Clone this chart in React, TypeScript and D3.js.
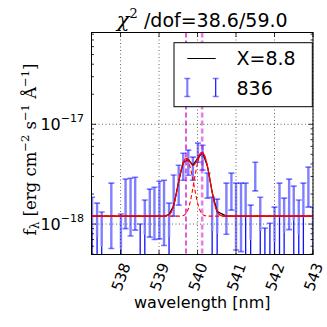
import React from "react";
import * as d3 from "d3";

// ---------- data (flux units of 1e-18 erg cm^-2 s^-1 A^-1) ----------
const UNIT = 1e-18;
const wavelengths = [
  537.26, 537.39, 537.51, 537.76, 538.01, 538.13, 538.26, 538.38, 538.51, 538.63,
  538.76, 538.88, 539.01, 539.13, 539.26, 539.38, 539.51, 539.63, 539.76, 539.88,
  540.01, 540.13, 540.26, 540.38, 540.51, 540.75, 540.88, 541.0, 541.13, 541.25,
  541.38, 541.5, 541.63, 541.75, 541.88, 542.0, 542.13, 542.25, 542.38, 542.5,
  542.63, 542.75, 542.88, 543.0,
];
const fluxes = [
  0.85, 0.74, 0.6, 1.57, 0.57, 1.86, 1.82, 1.91, 0.45, 0.79,
  1.49, 1.52, 1.7, 1.68, 0.74, 2.15, 2.72, 3.94, 4.3, 3.72,
  5.32, 4.82, 2.53, 0.85, 0.81, 1.68, 2.31, 1.56, 1.55, 1.17,
  0.7, 3.16, 0.85, 0.41, 0.46, 0.67, 1.17, 0.83, 1.85, 1.09,
  0.79, 1.17, 2.6, 0.67,
];
const errors = [
  1.01, 0.88, 0.72, 1.0, 0.69, 0.96, 1.06, 1.04, 0.55, 0.95,
  0.75, 0.82, 0.99, 1.07, 0.88, 0.95, 1.17, 1.19, 1.21, 0.97,
  1.15, 1.35, 0.71, 1.01, 0.97, 0.89, 0.93, 1.01, 1.02, 1.4,
  0.85, 1.01, 1.01, 0.5, 0.56, 0.81, 1.4, 0.99, 0.97, 1.31,
  0.95, 1.4, 1.12, 0.81,
];
// model: continuum + gaussian lines
const continuum = 1.2;
const lineCenters = [539.7, 540.12];
const lineAmps = [3.26, 3.96];
const lineSigmas = [0.15, 0.15];

const xTicks = [538, 539, 540, 541, 542, 543];
const yMajor = [-18, -17];
const titleChi = "χ";
const titleRest = " /dof=38.6/59.0";
const legendModel = "X=8.8";
const legendData = "836";

// ---------- layout ----------
const L = 91.5, R = 313, T = 32.5, B = 254.5;

const gauss = (l: number, k: number) =>
  lineAmps[k] * Math.exp(-((l - lineCenters[k]) ** 2) / (2 * lineSigmas[k] ** 2));
const modelTotal = (l: number) => (continuum + gauss(l, 0) + gauss(l, 1)) * UNIT;
const modelComp = (l: number, k: number) => (continuum + gauss(l, k)) * UNIT;

export default function App() {
  const x = d3.scaleLinear().domain([537.245, 543.0]).range([L, R]);
  const yMin = Math.pow(10, -18.305);
  const yMax = Math.pow(10, -16.08);
  const y = d3.scaleLog().domain([yMin, yMax]).range([B, T]);

  const fine = d3.range(537.245, 543.0001, 0.004);
  const line = d3
    .line<[number, number]>()
    .x((d) => x(d[0]))
    .y((d) => y(d[1]));

  const blackPath = line(wavelengths.map((l) => [l, modelTotal(l)] as [number, number]));
  const redPath = line(fine.map((l) => [l, modelTotal(l)] as [number, number]));
  const comp0 = line(fine.map((l) => [l, modelComp(l, 0)] as [number, number]));
  const comp1 = line(fine.map((l) => [l, modelComp(l, 1)] as [number, number]));

  const light = "rgba(0,0,255,0.5)";
  const dark = "#1010ff";

  const bars: React.ReactNode[] = [];
  wavelengths.forEach((l, i) => {
    const v = fluxes[i] * UNIT;
    const e = errors[i] * UNIT;
    const hi = v + e;
    const lo = v - e;
    if (hi <= yMin) return;
    const xp = x(l);
    const yh = y(Math.min(hi, yMax));
    if (lo > yMin) {
      const yl = y(lo);
      bars.push(
        <g key={i}>
          <line x1={xp} x2={xp} y1={yh} y2={yl} stroke={light} strokeWidth={2.4} />
          <line x1={xp - 3} x2={xp + 3} y1={yh} y2={yh} stroke={light} strokeWidth={1.6} />
          <line x1={xp - 3} x2={xp + 3} y1={yl} y2={yl} stroke={light} strokeWidth={1.6} />
        </g>
      );
    } else {
      const yv = v > yMin ? y(v) : yh;
      bars.push(
        <g key={i}>
          {yv > yh && (
            <line x1={xp} x2={xp} y1={yh} y2={yv} stroke={light} strokeWidth={2.4} />
          )}
          <line x1={xp} x2={xp} y1={yv} y2={B + 2} stroke={dark} strokeWidth={1.3} />
          <line x1={xp - 3} x2={xp + 3} y1={yh} y2={yh} stroke={light} strokeWidth={1.6} />
        </g>
      );
    }
  });

  // minor ticks on log axis
  const minor: number[] = [];
  for (let n = -19; n <= -17; n++) {
    for (let k = 2; k <= 9; k++) {
      const val = k * Math.pow(10, n);
      if (val > yMin && val < yMax) minor.push(val);
    }
  }

  const legX = 174, legY = 42.7, legW = 138.3, legH = 64;

  return (
    <svg
      width={327}
      height={327}
      style={{ position: "absolute", left: 0, top: 0, background: "#fff" }}
      fontFamily="DejaVu Sans"
    >
      <defs>
        <clipPath id="plot">
          <rect x={L} y={T} width={R - L} height={B - T} />
        </clipPath>
      </defs>
      <rect x={0} y={0} width={327} height={327} fill="#fff" />

      {/* grid */}
      <g stroke="#000" strokeWidth={0.8} strokeDasharray="1,2.5" opacity={0.75}>
        {xTicks.map((t) => (
          <line key={t} x1={x(t)} x2={x(t)} y1={T} y2={B} />
        ))}
        {yMajor.map((p) => (
          <line key={p} x1={L} x2={R} y1={y(Math.pow(10, p))} y2={y(Math.pow(10, p))} />
        ))}
      </g>

      <g clipPath="url(#plot)">
        {bars}
        <path d={blackPath || ""} fill="none" stroke="#000" strokeWidth={1.2} />
        <path d={redPath || ""} fill="none" stroke="#ff0000" strokeWidth={1.1} />
        <path d={comp0 || ""} fill="none" stroke="#ff0000" strokeWidth={1.1} strokeDasharray="4,2.5" />
        <path d={comp1 || ""} fill="none" stroke="#ff0000" strokeWidth={1.1} strokeDasharray="4,2.5" />
        <line
          x1={x(lineCenters[0])}
          x2={x(lineCenters[0])}
          y1={T}
          y2={B}
          stroke="#cc00cc"
          strokeWidth={1.3}
          strokeDasharray="5,3"
        />
        <line
          x1={x(lineCenters[1])}
          x2={x(lineCenters[1])}
          y1={T}
          y2={B}
          stroke="#cc00cc"
          strokeOpacity={0.5}
          strokeWidth={2.6}
          strokeDasharray="5,3"
        />
      </g>

      {/* spines */}
      <rect x={L} y={T} width={R - L} height={B - T} fill="none" stroke="#000" strokeWidth={1} />

      {/* ticks */}
      <g stroke="#000" strokeWidth={0.8}>
        {xTicks.map((t) => (
          <g key={t}>
            <line x1={x(t)} x2={x(t)} y1={B} y2={B - 4.5} />
            <line x1={x(t)} x2={x(t)} y1={T} y2={T + 4.5} />
          </g>
        ))}
        {yMajor.map((p) => (
          <g key={p}>
            <line x1={L} x2={L + 4.5} y1={y(Math.pow(10, p))} y2={y(Math.pow(10, p))} />
            <line x1={R} x2={R - 4.5} y1={y(Math.pow(10, p))} y2={y(Math.pow(10, p))} />
          </g>
        ))}
        {minor.map((m) => (
          <g key={m}>
            <line x1={L} x2={L + 2.5} y1={y(m)} y2={y(m)} />
            <line x1={R} x2={R - 2.5} y1={y(m)} y2={y(m)} />
          </g>
        ))}
      </g>

      {/* x tick labels */}
      {xTicks.map((t) => (
        <text
          key={t}
          transform={`translate(${x(t) + 5.5},${263.5}) rotate(-70)`}
          textAnchor="end"
          dominantBaseline="central"
          fontSize={15}
          fill="#000"
        >
          {t}
        </text>
      ))}

      {/* y tick labels */}
      {yMajor.map((p) => (
        <text
          key={p}
          x={84}
          y={y(Math.pow(10, p)) + 6}
          textAnchor="end"
          fontSize={16}
          fill="#000"
        >
          10
          <tspan fontSize={11} dy={-8}>
            {"−" + Math.abs(p)}
          </tspan>
        </text>
      ))}

      {/* axis labels */}
      <text x={(L + R) / 2} y={308} textAnchor="middle" fontSize={16} fill="#000">
        wavelength [nm]
      </text>
      <text
        transform={`translate(36,${(T + B) / 2 + 6}) rotate(-90)`}
        textAnchor="middle"
        fontFamily="DejaVu Serif"
        fontSize={16.5}
        fill="#000"
      >
        f
        <tspan fontSize={12} dy={3}>λ</tspan>
        <tspan dy={-3}> [erg cm</tspan>
        <tspan fontSize={11.5} dy={-7}>−2</tspan>
        <tspan dy={7}> s</tspan>
        <tspan fontSize={11.5} dy={-7}>−1</tspan>
        <tspan dy={7}> Å</tspan>
        <tspan fontSize={11.5} dy={-7}>−1</tspan>
        <tspan dy={7}>]</tspan>
      </text>

      {/* title */}
      <text x={(L + R) / 2} y={27} textAnchor="middle" fill="#000" fontSize={19}>
        <tspan fontFamily="DejaVu Serif" fontStyle="italic" fontSize={21}>
          {titleChi}
        </tspan>
        <tspan fontFamily="DejaVu Serif" fontSize={13} dy={-9}>
          2
        </tspan>
        <tspan dy={9}>{titleRest}</tspan>
      </text>

      {/* legend */}
      <rect x={legX} y={legY} width={legW} height={legH} fill="#fff" stroke="#000" strokeWidth={1} />
      <line x1={187.3} x2={215.7} y1={58.5} y2={58.5} stroke="#000" strokeWidth={1} />
      <text x={236.5} y={65.3} fontSize={19} fill="#000">
        {legendModel}
      </text>
      <g>
        <line x1={187.3} x2={187.3} y1={78.5} y2={96.5} stroke={light} strokeWidth={2.2} />
        <line x1={184.3} x2={190.3} y1={78.5} y2={78.5} stroke={light} strokeWidth={1.5} />
        <line x1={184.3} x2={190.3} y1={96.5} y2={96.5} stroke={light} strokeWidth={1.5} />
        <line x1={215.7} x2={215.7} y1={78.5} y2={96.5} stroke={dark} strokeWidth={1.2} />
        <line x1={212.7} x2={218.7} y1={78.5} y2={78.5} stroke={light} strokeWidth={1.5} />
        <line x1={212.7} x2={218.7} y1={96.5} y2={96.5} stroke={light} strokeWidth={1.5} />
      </g>
      <text x={236.5} y={94.5} fontSize={19} fill="#000">
        {legendData}
      </text>
    </svg>
  );
}
